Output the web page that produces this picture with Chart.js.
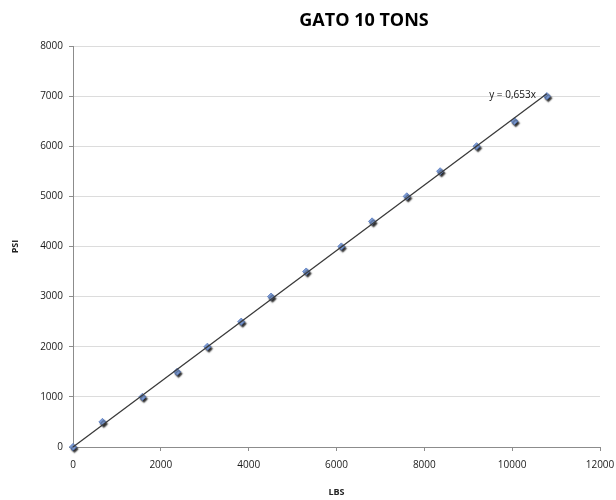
<!DOCTYPE html>
<html>
<head>
<meta charset="utf-8">
<script src="https://cdn.jsdelivr.net/npm/chart.js@4/dist/chart.umd.min.js"></script>
<style>
  html, body { margin: 0; padding: 0; background: #ffffff; }
  canvas { display: block; }
</style>
</head>
<body>
<canvas id="chart" width="616" height="500"></canvas>
<script>
// Load (LBS) against pressure reading (PSI)
const lbs = [0, 670, 1580, 2370, 3060, 3830, 4510, 5310, 6110, 6810, 7600, 8360, 9190, 10050, 10790];
const psi = [0, 500, 1000, 1500, 2000, 2500, 3000, 3500, 4000, 4500, 5000, 5500, 6000, 6500, 7000];

// Linear trendline through the origin
const slope = 0.653;
const trendLabel = 'y = 0,653x';

const titleText = 'GATO 10 TONS';
const xTitle = 'LBS';
const yTitle = 'PSI';

const xTicks = { min: 0, max: 12000, step: 2000 };
const yTicks = { min: 0, max: 8000, step: 1000 };

const FONT = "'Open Sans', 'Liberation Sans', sans-serif";

const points = lbs.map((x, i) => ({ x: x, y: psi[i] }));
const xEnd = Math.max(...lbs);
const trend = [{ x: 0, y: 0 }, { x: xEnd, y: slope * xEnd }];

// Soft drop shadow under the markers
const markerShadow = {
  id: 'markerShadow',
  beforeDatasetDraw(chart, args) {
    if (args.index !== 1) return;
    const ctx = chart.ctx;
    ctx.save();
    ctx.shadowColor = 'rgba(0,0,0,0.85)';
    ctx.shadowOffsetX = 1.5;
    ctx.shadowOffsetY = 2;
    ctx.shadowBlur = 1.5;
  },
  afterDatasetDraw(chart, args) {
    if (args.index !== 1) return;
    chart.ctx.restore();
  }
};

// Chart title and trendline equation
const annotations = {
  id: 'annotations',
  afterDraw(chart) {
    const ctx = chart.ctx;
    const xs = chart.scales.x, ys = chart.scales.y;
    ctx.save();
    ctx.fillStyle = '#000';
    ctx.textAlign = 'center';
    ctx.textBaseline = 'middle';
    ctx.font = "bold 18px " + FONT;
    ctx.fillText(titleText, 364, 21);

    const last = trend[trend.length - 1];
    const px = xs.getPixelForValue(last.x);
    const py = ys.getPixelForValue(last.y);
    ctx.font = "10px " + FONT;
    ctx.textAlign = 'right';
    ctx.fillStyle = '#111';
    ctx.fillText(trendLabel, px - 11, py + 1);
    ctx.restore();
  }
};

const plain = (v) => String(v);

new Chart(document.getElementById('chart'), {
  type: 'scatter',
  data: {
    datasets: [
      {
        type: 'line',
        data: trend,
        borderColor: '#3a3a3a',
        borderWidth: 1.3,
        pointRadius: 0,
        fill: false,
        tension: 0,
        clip: false
      },
      {
        data: points,
        pointStyle: 'rectRot',
        pointRadius: 3.6,
        backgroundColor: '#7f9fd9',
        borderColor: '#5577bb',
        borderWidth: 0.8,
        clip: false
      }
    ]
  },
  options: {
    responsive: false,
    animation: false,
    layout: { padding: { left: 6, right: 16, top: 46, bottom: 0 } },
    plugins: {
      legend: { display: false },
      tooltip: { enabled: false },
      title: { display: false }
    },
    scales: {
      x: {
        type: 'linear',
        min: xTicks.min,
        max: xTicks.max,
        ticks: {
          stepSize: xTicks.step,
          color: '#1a1a1a',
          font: { family: FONT, size: 10 },
          padding: 8,
          maxRotation: 0,
          callback: plain
        },
        grid: {
          drawOnChartArea: false,
          tickLength: 4,
          tickColor: '#8c8c8c'
        },
        border: { color: '#8c8c8c', width: 1 },
        title: {
          display: true,
          text: xTitle,
          color: '#222',
          font: { family: FONT, size: 9, weight: 'bold' },
          padding: { top: 4, bottom: 2 }
        },
        afterFit(scale) {
          scale.height = 53;
          scale.paddingLeft = 0;
          scale.paddingRight = 0;
        }
      },
      y: {
        type: 'linear',
        min: yTicks.min,
        max: yTicks.max,
        ticks: {
          stepSize: yTicks.step,
          color: '#1a1a1a',
          font: { family: FONT, size: 10 },
          padding: 6,
          callback: plain
        },
        grid: {
          color: '#dcdcdc',
          lineWidth: 1,
          tickLength: 4,
          tickColor: '#8c8c8c'
        },
        border: { color: '#8c8c8c', width: 1 },
        title: {
          display: true,
          text: yTitle,
          color: '#222',
          font: { family: FONT, size: 9, weight: 'bold' },
          padding: { top: 4, bottom: 4 }
        },
        afterFit(scale) {
          scale.width = 67;
          scale.paddingTop = 0;
          scale.paddingBottom = 0;
        }
      }
    }
  },
  plugins: [markerShadow, annotations]
});
</script>
</body>
</html>
